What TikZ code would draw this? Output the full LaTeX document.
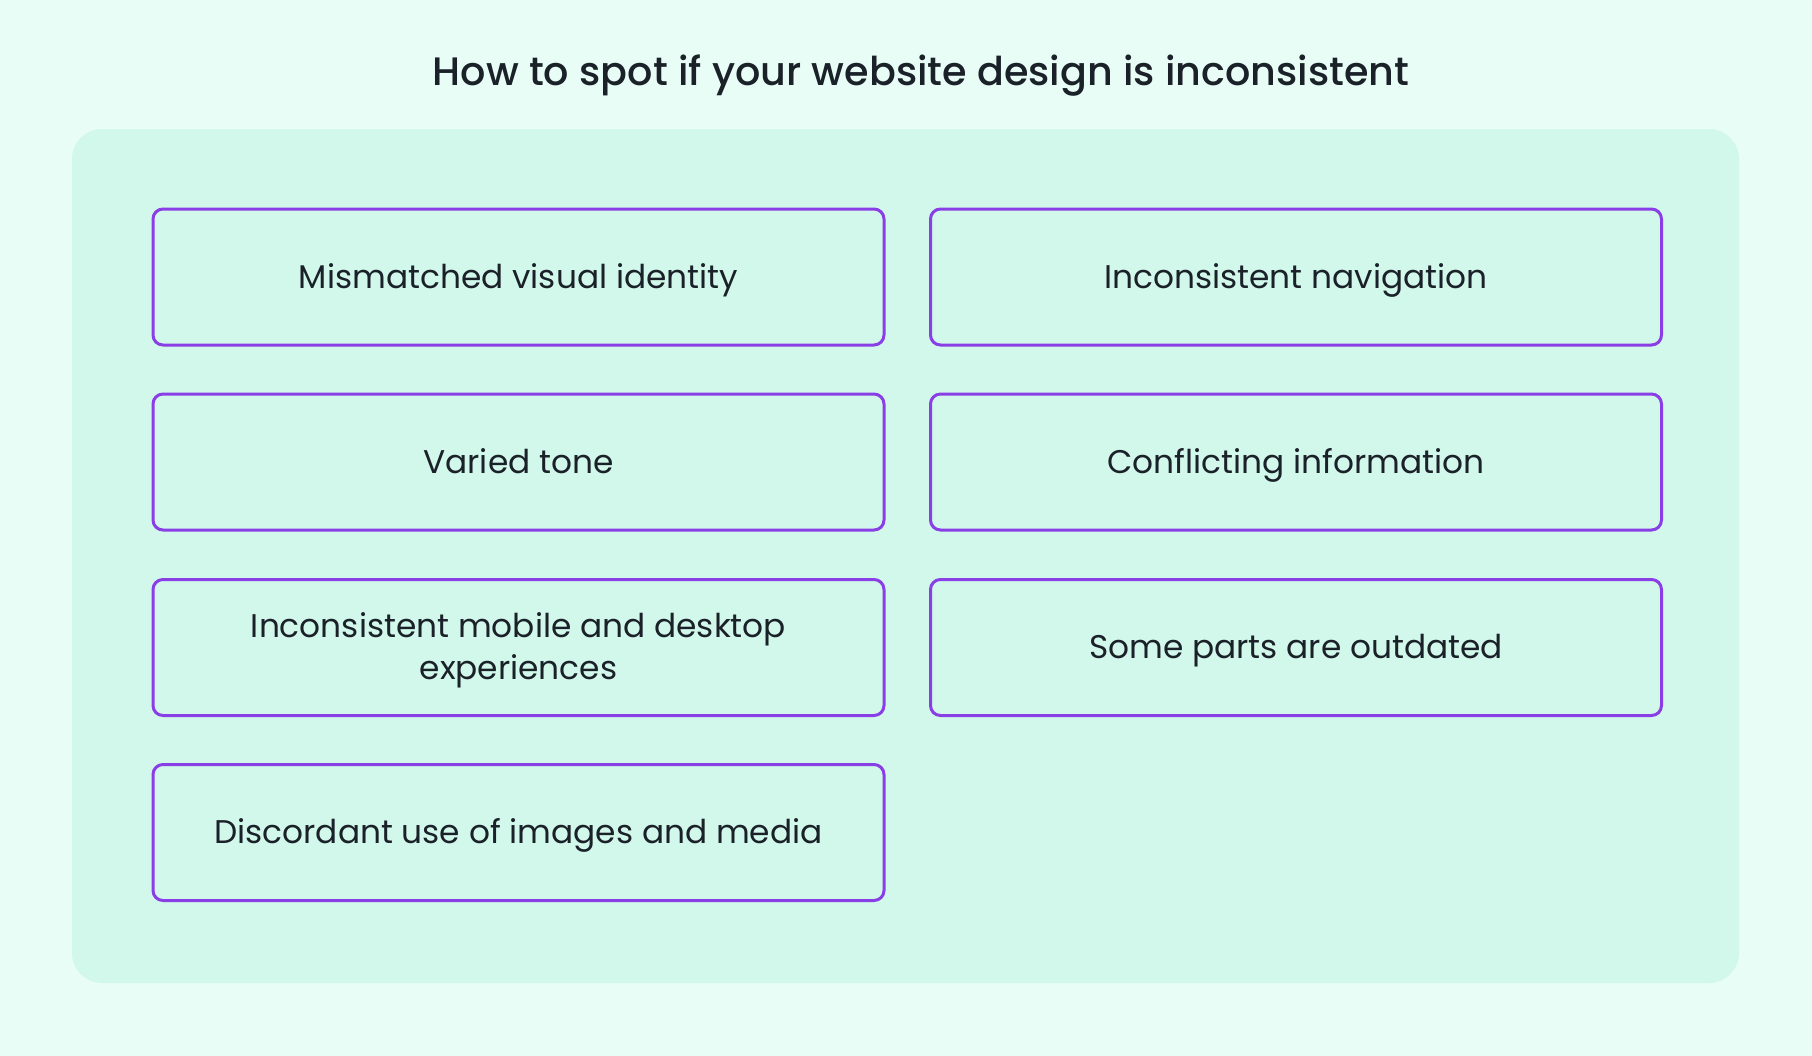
\documentclass[tikz,border=0pt]{standalone}
\usepackage{fontspec}
\setmainfont{Poppins}
\newfontfamily\titlefont{Poppins}[UprightFont=* Medium]
\definecolor{bgout}{HTML}{E8FDF6}
\definecolor{panel}{HTML}{D2F8EB}
\definecolor{purp}{HTML}{8A3FE6}
\definecolor{ink}{HTML}{1A2128}
\begin{document}
\begin{tikzpicture}[x=0.5pt,y=-0.5pt,
  card/.style={draw=purp,line width=1.5pt,rounded corners=5pt,fill=panel,
    minimum width=365.5pt,minimum height=68pt,align=center,text=ink,
    font=\fontsize{16.4}{21}\selectfont,inner sep=0pt,
    text height=11.4pt,text depth=0pt},
  ttl/.style={text=ink,font=\titlefont\fontsize{19.85}{24}\selectfont,
    inner sep=0pt,text height=14pt,text depth=0pt}]
\fill[bgout] (0,0) rectangle (1812,1056);
\useasboundingbox (0,0) rectangle (1812,1056);
\fill[panel,rounded corners=15pt] (72,129) rectangle (1739,983);
\node[ttl] (title) at (921,71) {How to spot if your website design is inconsistent};
\node[card] (a) at (518.5,277) {Mismatched visual identity};
\node[card] (b) at (1296,277) {Inconsistent navigation};
\node[card] (c) at (518.5,462) {Varied tone};
\node[card] (d) at (1296,462) {Conflicting information};
\node[card,text height=32.4pt] (e) at (518.5,647.5) {Inconsistent mobile and desktop\\experiences};
\node[card] (f) at (1296,647.5) {Some parts are outdated};
\node[card] (g) at (518.5,832.5) {Discordant use of images and media};
\end{tikzpicture}
\end{document}
